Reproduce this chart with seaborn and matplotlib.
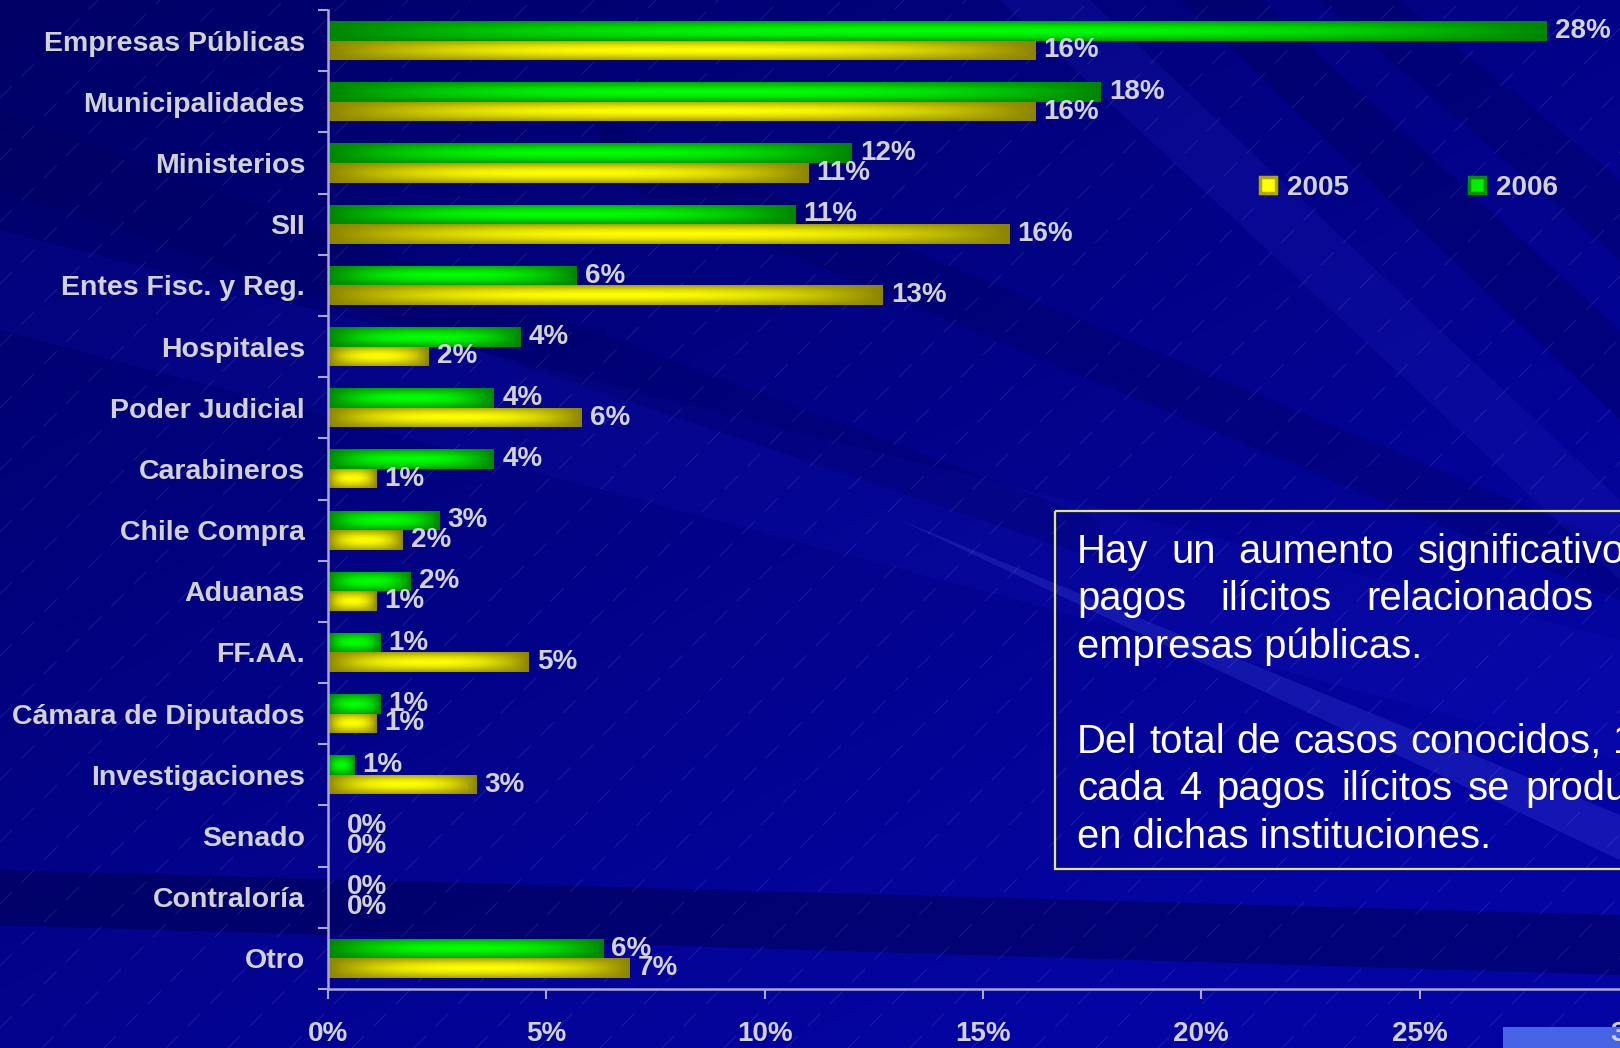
# Pagos ilícitos por institución, 2005 vs 2006 (barras horizontales)
import numpy as np
import pandas as pd
import matplotlib
matplotlib.use("Agg")
import matplotlib.pyplot as plt
from matplotlib.patches import Rectangle, Polygon
from matplotlib.lines import Line2D
import seaborn as sns

# --- datos ---
instituciones = ["Empresas Públicas", "Municipalidades", "Ministerios", "SII",
                 "Entes Fisc. y Reg.", "Hospitales", "Poder Judicial", "Carabineros",
                 "Chile Compra", "Aduanas", "FF.AA.", "Cámara de Diputados",
                 "Investigaciones", "Senado", "Contraloría", "Otro"]
pct_2006 = [27.9, 17.7, 12.0, 10.7, 5.7, 4.4, 3.8, 3.8, 2.55, 1.9, 1.2, 1.2, 0.6, 0.0, 0.0, 6.3]
pct_2005 = [16.2, 16.2, 11.0, 15.6, 12.7, 2.3, 5.8, 1.1, 1.7, 1.1, 4.6, 1.1, 3.4, 0.0, 0.0, 6.9]
anios = ["2006", "2005"]
x_ticks = [0, 5, 10, 15, 20, 25, 30]

df = pd.DataFrame({
    "Institución": instituciones * 2,
    "Año": ["2006"] * len(instituciones) + ["2005"] * len(instituciones),
    "Porcentaje": pct_2006 + pct_2005,
})

W, H = 1620, 1048
GRIS = "#D2D2D2"
EJE = "#A8A8D0"
VERDE_OSC, VERDE_CLA = np.array([0.0, 0.52, 0.0]), np.array([0.0, 1.0, 0.0])
AMAR_OSC, AMAR_CLA = np.array([0.55, 0.52, 0.0]), np.array([1.0, 1.0, 0.0])

sns.set_theme(style="white")
plt.rcParams["font.family"] = ["Liberation Sans", "DejaVu Sans"]

fig = plt.figure(figsize=(W / 100, H / 100), dpi=100)
renderer = fig.canvas.get_renderer()

# --- fondo (degradado azul, haces y líneas finas) ---
bg = fig.add_axes([0, 0, 1, 1], zorder=-5)
bg.set_xlim(0, W)
bg.set_ylim(H, 0)
bg.axis("off")
yy, xx = np.mgrid[0:H:4, 0:W:4]
b = 0.40 + 0.24 * np.clip(0.55 * xx / W + 0.65 * yy / H, 0, 1)
img = np.dstack([0.08 * (b - 0.4), 0.08 * (b - 0.4), b])
bg.imshow(img, extent=(0, W, H, 0), aspect="auto", zorder=0)

haces = [
    ([(0, 230), (0, 330), (1620, 760), (1620, 640)], "#1a1ad0", 0.15),
    ([(600, 120), (600, 175), (1620, 600), (1620, 545)], "#000050", 0.25),
    ([(1180, 0), (1260, 0), (1620, 330), (1620, 420)], "#000055", 0.35),
    ([(1320, 0), (1400, 0), (1620, 180), (1620, 260)], "#000055", 0.30),
    ([(1000, 0), (1090, 0), (1620, 500), (1620, 580)], "#2020c0", 0.22),
    ([(900, 520), (1620, 860), (1620, 815)], "#5a6aff", 0.18),
    ([(0, 870), (0, 925), (1620, 975), (1620, 915)], "#000045", 0.45),
    ([(0, 110), (0, 190), (1100, 560), (1100, 520)], "#000050", 0.22),
]
for pts, c, a in haces:
    bg.add_patch(Polygon(pts, closed=True, color=c, alpha=a, lw=0, zorder=1))

for c0 in range(-1000, 2700, 62):
    bg.plot([c0, c0 + 1100], [H + 50, H + 50 - 1100], color="white", lw=0.6,
            alpha=0.12, ls=(0, (22, 16)), zorder=2)

# recuadro de texto (justificado)
bg.add_patch(Rectangle((1055, 511), 800, 358, fill=False, ec="#E6E66A", lw=1.6, zorder=3))
TX0, TX1 = 1077, 1692
lineas = [
    (563, "Hay un aumento significativo de", True),
    (610.5, "pagos ilícitos relacionados con", True),
    (658, "empresas públicas.", False),
    (753, "Del total de casos conocidos, 1 de", True),
    (800.5, "cada 4 pagos ilícitos se producen", True),
    (848, "en dichas instituciones.", False),
]
for y, frase, justificar in lineas:
    if not justificar:
        bg.text(TX0, y, frase, color="white", fontsize=28.8, va="baseline", zorder=4)
        continue
    palabras = frase.split()
    textos = [bg.text(0, y, p, color="white", fontsize=28.8, va="baseline", zorder=4)
              for p in palabras]
    anchos = [t.get_window_extent(renderer).width for t in textos]
    hueco = (TX1 - TX0 - sum(anchos)) / (len(palabras) - 1)
    x = TX0
    for t, a in zip(textos, anchos):
        t.set_x(x)
        x += a + hueco

# rectángulo azul claro abajo a la derecha
bg.add_patch(Rectangle((1503, 1027), 200, 40, color="#4763E6", lw=0, zorder=3))

# --- gráfico de barras ---
x0, x1 = 328, 1638
ytop, ybot = 10, 989
ax = fig.add_axes([x0 / W, 1 - ybot / H, (x1 - x0) / W, (ybot - ytop) / H])
ax.set_facecolor("none")

sns.barplot(data=df, y="Institución", x="Porcentaje", hue="Año", hue_order=anios,
            order=instituciones, orient="h", width=0.64, saturation=1,
            palette={"2006": tuple(VERDE_OSC), "2005": tuple(AMAR_OSC)},
            legend=False, ax=ax, errorbar=None, linewidth=0)

# degradado "desde el centro" en cada barra
u = np.linspace(0, 1, 200)
v = np.linspace(0, 1, 24)
U, V = np.meshgrid(u, v)
inten = (1 - np.abs(2 * U - 1) ** 2.5) * (1 - 0.75 * np.abs(2 * V - 1) ** 1.6)
inten = np.clip(inten, 0, 1)[..., None]

for p in ax.patches:
    w = p.get_width()
    if w <= 0:
        continue
    fc = np.array(p.get_facecolor()[:3])
    es_verde = fc[0] < 0.1
    osc, cla = (VERDE_OSC, VERDE_CLA) if es_verde else (AMAR_OSC, AMAR_CLA)
    grad = osc + (cla - osc) * inten
    y0p, hp = p.get_y(), p.get_height()
    im = ax.imshow(grad, extent=(p.get_x(), p.get_x() + w, y0p + hp, y0p),
                   aspect="auto", zorder=2, interpolation="bilinear")
    im.set_clip_path(p)

for p in ax.patches:
    w = p.get_width()
    yc = p.get_y() + p.get_height() / 2
    ax.annotate(f"{w:.0f}%", (w, yc), xytext=(6 if w > 0 else 13.5, 0),
                textcoords="offset points", va="center", ha="left",
                fontsize=20, fontweight="bold", color=GRIS, zorder=5,
                annotation_clip=False)

ax.set_xlim(0, 30)
ax.set_ylim(len(instituciones) - 0.5, -0.5)
ax.set_xticks(x_ticks)
ax.set_xticklabels([f"{t}%" for t in x_ticks])
ax.set_yticks(np.arange(-0.5, len(instituciones), 1), minor=True)
ax.set_xlabel("")
ax.set_ylabel("")
for s in ["top", "right"]:
    ax.spines[s].set_visible(False)
for s in ["left", "bottom"]:
    ax.spines[s].set_color(EJE)
    ax.spines[s].set_linewidth(1.8)
ax.tick_params(axis="y", which="major", length=0, pad=16.5, labelsize=20.5, labelcolor=GRIS)
ax.tick_params(axis="y", which="minor", length=7, width=1.5, color=EJE, direction="out", left=True)
ax.tick_params(axis="x", which="major", length=7, width=1.5, color=EJE, direction="out",
               bottom=True, pad=16, labelsize=20, labelcolor=GRIS)
for lab in ax.get_yticklabels() + ax.get_xticklabels():
    lab.set_fontweight("bold")

# leyenda
manejadores = [
    Line2D([], [], ls="none", marker="s", markersize=11, markerfacecolor="#FFFF00",
           markeredgecolor="#B0A800", markeredgewidth=2.5),
    Line2D([], [], ls="none", marker="s", markersize=11, markerfacecolor="#00F000",
           markeredgecolor="#009000", markeredgewidth=2.5),
]
leg = ax.legend(manejadores, ["2005", "2006"], ncol=2, loc="center left",
                bbox_to_anchor=(1240 / W, 1 - 188 / H), bbox_transform=fig.transFigure,
                frameon=False, handlelength=1.0, handletextpad=0.2, columnspacing=4.1,
                borderpad=0, prop={"size": 20, "weight": "bold"})
for t in leg.get_texts():
    t.set_color(GRIS)

fig.savefig("out.png", dpi=100)
